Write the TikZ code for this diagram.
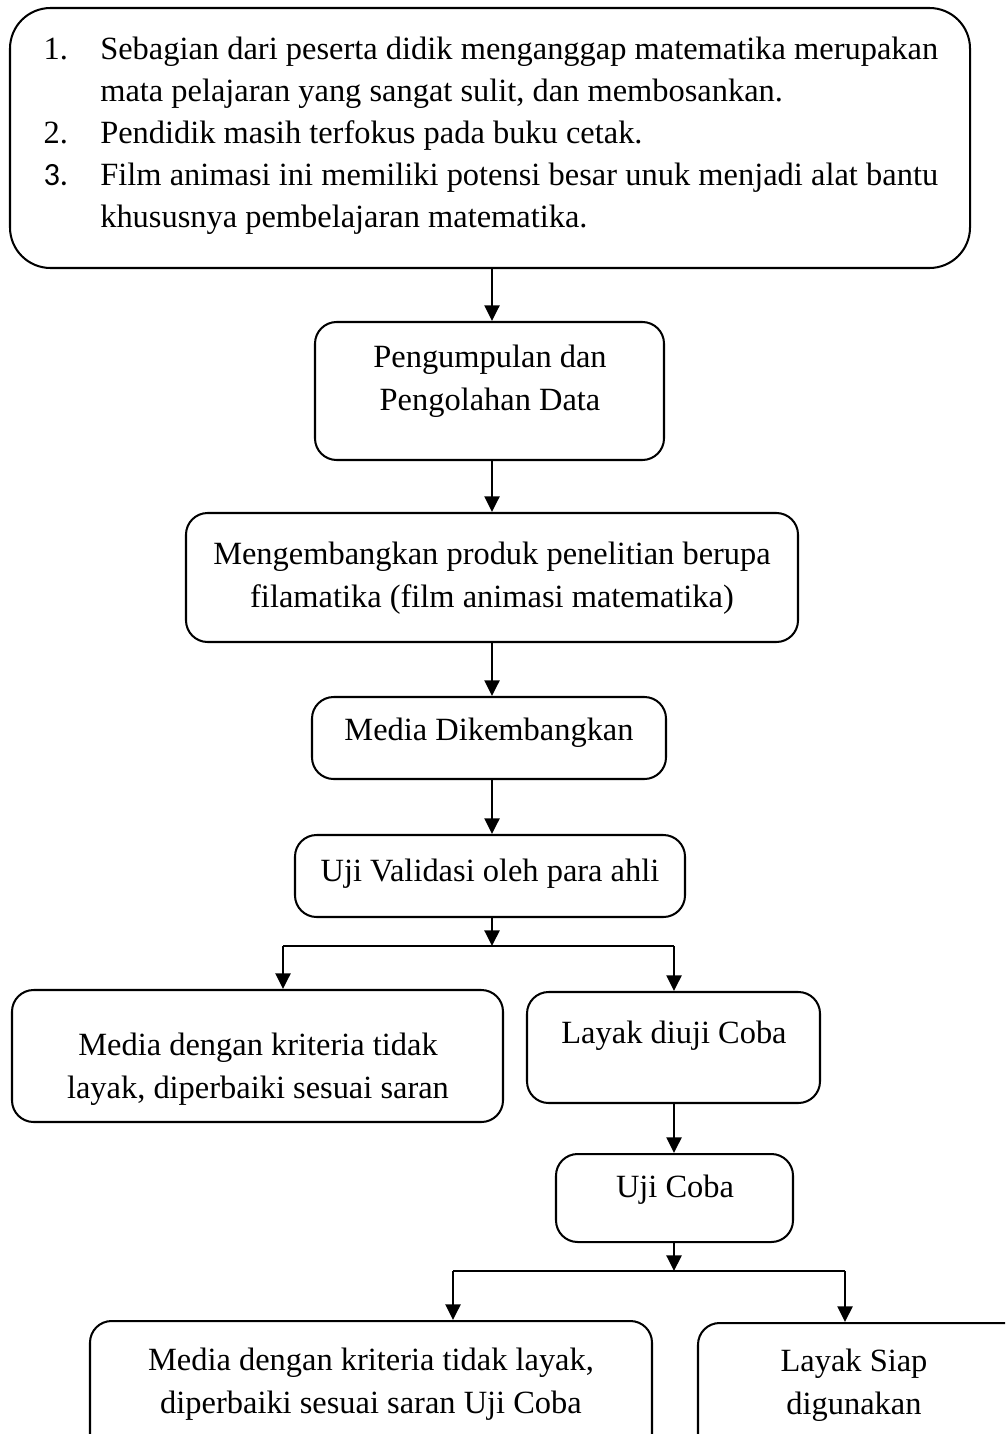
\documentclass[tikz,border=0pt]{standalone}
\usepackage{fontspec}
\setmainfont{Liberation Serif}
\newfontfamily\numfont{Carlito}
\usetikzlibrary{arrows.meta,fit}
\tikzset{
  every node/.style={font=\fontsize{12}{15.6}\selectfont},
  box/.style={draw, line width=0.75pt, rounded corners=8pt, inner sep=0pt},
  txt/.style={align=center, inner sep=0pt, anchor=base},
  link/.style={line width=0.75pt},
  arr/.style={link, -{Triangle[length=5.8pt,width=5.6pt]}}
}

\begin{document}
\begin{tikzpicture}[x=0.37pt,y=-0.37pt]
  \useasboundingbox (0,0) rectangle (1005,1434);
  \clip (0,0) rectangle (1005,1434);

  % boxes
  \node[box, rounded corners=15pt, fit={(10,8) (970,268)}] (b1) {};
  \node[box, fit={(315,322) (664,460)}] (b2) {};
  \node[box, fit={(186,513) (798,642)}] (b3) {};
  \node[box, fit={(312,697) (666,779)}] (b4) {};
  \node[box, fit={(295,835) (685,917)}] (b5) {};
  \node[box, fit={(12,990) (503,1122)}] (b6) {};
  \node[box, fit={(527,992) (820,1103)}] (b7) {};
  \node[box, fit={(556,1154) (793,1242)}] (b8) {};
  \node[box, fit={(90,1321) (652,1480)}] (b9) {};
  \node[box, fit={(698,1323) (1040,1480)}] (b10) {};

  % texts (anchor = baseline of last line)
  \node[inner sep=0pt, anchor=north west, text width=331pt, align=justify] (t1) at (43,36) {%
    \hangindent=21pt\hangafter=1\noindent\makebox[21pt][l]{1.}Sebagian dari peserta didik menganggap matematika merupakan\linebreak mata pelajaran yang sangat sulit, dan membosankan.\par
    \hangindent=21pt\hangafter=1\noindent\makebox[21pt][l]{2.}Pendidik masih terfokus pada buku cetak.\par
    \hangindent=21pt\hangafter=1\noindent\makebox[21pt][l]{\numfont 3.}Film animasi ini memiliki potensi besar unuk menjadi alat bantu\linebreak khususnya pembelajaran matematika.\par};
  \node[txt] (t2) at (490,410) {Pengumpulan dan\\Pengolahan Data};
  \node[txt] (t3) at (492,607) {Mengembangkan produk penelitian berupa\\filamatika (film animasi matematika)};
  \node[txt] (t4) at (489,740) {Media Dikembangkan};
  \node[txt] (t5) at (490,881) {Uji Validasi oleh para ahli};
  \node[txt] (t6) at (258,1098) {Media dengan kriteria tidak\\layak, diperbaiki sesuai saran};
  \node[txt] (t7) at (674,1043) {Layak diuji Coba};
  \node[txt] (t8) at (675,1197) {Uji Coba};
  \node[txt] (t9) at (371,1413) {Media dengan kriteria tidak layak,\\diperbaiki sesuai saran Uji Coba};
  \node[txt] (t10) at (854,1414) {Layak Siap\\digunakan};

  % branch points
  \coordinate (j1) at (492,946);
  \coordinate (j1l) at (283,946);
  \coordinate (j1r) at (674,946);
  \coordinate (j2) at (674,1271);
  \coordinate (j2l) at (453,1271);
  \coordinate (j2r) at (845,1271);

  % connectors
  \draw[arr] (b1.south -| j1) -- (b2.north -| j1);
  \draw[arr] (b2.south -| j1) -- (b3.north -| j1);
  \draw[arr] (b3.south -| j1) -- (b4.north -| j1);
  \draw[arr] (b4.south -| j1) -- (b5.north -| j1);
  \draw[arr] (b5.south -| j1) -- (j1);
  \draw[link] (j1l) -- (j1r);
  \draw[arr] (j1l) -- (b6.north -| j1l);
  \draw[arr] (j1r) -- (b7.north -| j1r);
  \draw[arr] (b7.south -| j1r) -- (b8.north -| j1r);
  \draw[arr] (b8.south -| j2) -- (j2);
  \draw[link] (j2l) -- (j2r);
  \draw[arr] (j2l) -- (b9.north -| j2l);
  \draw[arr] (j2r) -- (b10.north -| j2r);
\end{tikzpicture}
\end{document}
